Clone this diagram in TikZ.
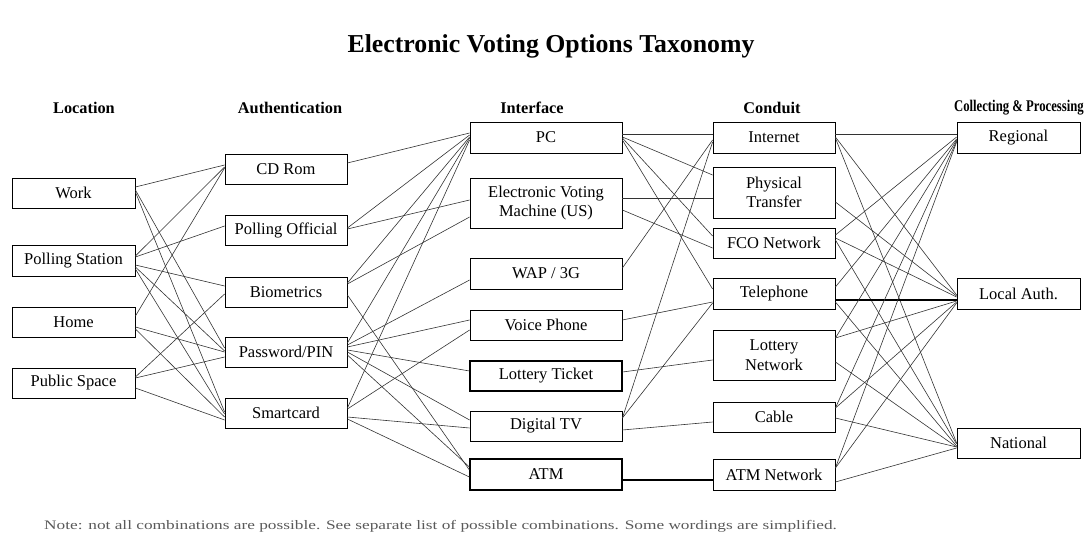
\documentclass[tikz,border=0pt]{standalone}
\usepackage{fontspec}
\setmainfont{Liberation Serif}
\newfontfamily\notefont{Liberation Serif}[FakeStretch=1.33]
\usetikzlibrary{positioning}

\tikzset{
  box/.style={draw, line width=0.8pt, inner sep=0pt, align=center,
              font=\fontsize{16.5}{19.5}\selectfont},
  colA/.style={box, minimum width=123pt},
  colB/.style={box, minimum width=122pt},
  colC/.style={box, minimum width=152pt},
  colD/.style={box, minimum width=122pt},
  colE/.style={box, minimum width=123pt},
  heading/.style={font=\fontsize{16.3}{18}\selectfont\bfseries, inner sep=0pt},
  wire/.style={draw=black!80, line width=0.6pt},
  trunk/.style={draw=black, line width=1.2pt}
}
% \wire{from}{shift at from}{to}{shift at to}: link the east side of one box to the west side of the next
\newcommand\wire[4]{\draw[wire] ([yshift=#2pt]#1.east) -- ([yshift=#4pt]#3.west);}
\newcommand\trunkwire[4]{\draw[trunk] ([yshift=#2pt]#1.east) -- ([yshift=#4pt]#3.west);}

\begin{document}
\begin{tikzpicture}[x=1pt, y=-1pt]
\useasboundingbox (0,0) rectangle (1087,545);

% title and column headings
\node[font=\fontsize{25.8}{30}\selectfont\bfseries, inner sep=0pt] (title) at (551,46) {Electronic Voting Options Taxonomy};
\node[heading] (hLoc)  at (84,108)  {Location};
\node[heading] (hAuth) at (290,108) {Authentication};
\node[heading] (hInt)  at (532,108) {Interface};
\node[heading] (hCon)  at (772,108) {Conduit};
\node[heading, anchor=east] (hCol) at (1084,108) {\scalebox{0.78}[1]{Collecting \& Processing}};

% Location
\node[colA, minimum height=30pt] (work)     at (73.5,193)   {Work};
\node[colA, minimum height=31pt] (pstation) at (73.5,260.5) {Polling Station};
\node[colA, minimum height=30pt] (home)     at (73.5,322)   {Home};
\node[colA, minimum height=30pt] (pspace)   at (73.5,383)   {Public Space};

% Authentication
\node[colB, minimum height=30pt] (cdrom) at (286,169) {CD Rom};
\node[colB, minimum height=30pt] (poff)  at (286,230) {Polling Official};
\node[colB, minimum height=30pt] (bio)   at (286,292) {Biometrics};
\node[colB, minimum height=30pt] (pin)   at (286,352) {Password/PIN};
\node[colB, minimum height=30pt] (smart) at (286,413) {Smartcard};

% Interface
\node[colC, minimum height=31pt] (pc)      at (546,137.5) {PC};
\node[colC, minimum height=50pt] (evm)     at (546,203)   {Electronic Voting\\Machine (US)};
\node[colC, minimum height=31pt] (wap)     at (546,273.5) {WAP / 3G};
\node[colC, minimum height=30pt] (voice)   at (546,325)   {Voice Phone};
\node[colC, minimum height=30pt, line width=1.1pt] (lottery) at (546,376) {Lottery Ticket};
\node[colC, minimum height=30pt] (dtv)     at (546,426)   {Digital TV};
\node[colC, minimum height=31pt, line width=1.2pt] (atm) at (546,474.5) {ATM};

% Conduit
\node[colD, minimum height=31pt] (internet) at (774,137.5) {Internet};
\node[colD, minimum height=51pt] (phys)     at (774,192.5) {Physical\\Transfer};
\node[colD, minimum height=30pt] (fco)      at (774,243)   {FCO Network};
\node[colD, minimum height=31pt] (tel)      at (774,293.5) {Telephone};
\node[colD, minimum height=50pt] (lotnet)   at (774,355)   {Lottery\\Network};
\node[colD, minimum height=30pt] (cable)    at (774,417)   {Cable};
\node[colD, minimum height=31pt] (atmnet)   at (774,474.5) {ATM Network};

% Collecting & Processing
\node[colE, minimum height=31pt] (regional) at (1018.5,137.5) {Regional};
\node[colE, minimum height=31pt] (local)    at (1018.5,293.5) {Local Auth.};
\node[colE, minimum height=30pt] (national) at (1018.5,443)   {National};

% Location -> Authentication
\wire{work}{6}{cdrom}{4}
\wire{work}{3}{pin}{4}
\wire{work}{1}{smart}{1}
\wire{pstation}{4.5}{cdrom}{2}
\wire{pstation}{3.5}{poff}{4}
\wire{pstation}{-4.5}{bio}{6}
\wire{pstation}{-6.5}{pin}{1}
\wire{pstation}{-8.5}{smart}{-1}
\wire{home}{6}{cdrom}{1}
\wire{home}{-5}{pin}{0}
\wire{home}{-7}{smart}{-4}
\wire{pspace}{6}{bio}{-2}
\wire{pspace}{5}{pin}{-5}
\wire{pspace}{-5}{smart}{-7}

% Authentication -> Interface
\wire{cdrom}{6}{pc}{4.5}
\wire{poff}{2}{pc}{2.5}
\wire{poff}{1}{evm}{3}
\wire{bio}{9}{pc}{0.5}
\wire{bio}{8}{evm}{-14}
\wire{bio}{-3}{atm}{4.5}
\wire{pin}{9}{pc}{-0.5}
\wire{pin}{7}{wap}{-6.5}
\wire{pin}{5}{voice}{5}
\wire{pin}{2}{lottery}{5}
\wire{pin}{0}{dtv}{6}
\wire{pin}{-3}{atm}{7.5}
\wire{smart}{5}{pc}{-2.5}
\wire{smart}{4}{voice}{-5}
\wire{smart}{-4}{dtv}{-2}
\wire{smart}{-6}{atm}{-2.5}

% Interface -> Conduit
\wire{pc}{3.5}{internet}{3.5}
\wire{pc}{0.5}{phys}{17.5}
\wire{pc}{-0.5}{fco}{7}
\wire{pc}{-2.5}{tel}{4.5}
\wire{evm}{5}{phys}{-5.5}
\wire{evm}{-7}{fco}{-5}
\wire{wap}{5.5}{internet}{-2.5}
\wire{voice}{5}{tel}{-8.5}
\wire{lottery}{4}{lotnet}{-5}
\wire{dtv}{8}{internet}{-4.5}
\wire{dtv}{8}{tel}{-9.5}
\wire{dtv}{-4}{cable}{-5}
\trunkwire{atm}{-5.5}{atmnet}{-5.5}

% Conduit -> Collecting & Processing
\wire{internet}{3.5}{regional}{3.5}
\wire{internet}{0.5}{local}{-1.5}
\wire{internet}{-0.5}{national}{0}
\wire{phys}{-9.5}{local}{-2.5}
\wire{fco}{8}{regional}{0.5}
\wire{fco}{5}{local}{-3.5}
\wire{fco}{3}{national}{-1}
\wire{tel}{6.5}{regional}{-1.5}
\trunkwire{tel}{-6.5}{local}{-6.5}
\wire{tel}{-8.5}{national}{-3}
\wire{lotnet}{17}{regional}{-2.5}
\wire{lotnet}{17}{local}{-7.5}
\wire{lotnet}{-7}{national}{-4}
\wire{cable}{9}{regional}{-3.5}
\wire{cable}{9}{local}{-8.5}
\wire{cable}{-1}{national}{-4}
\wire{atmnet}{6.5}{regional}{-4.5}
\wire{atmnet}{6.5}{local}{-9.5}
\wire{atmnet}{-7.5}{national}{-5}

% footnote
\node[anchor=west, inner sep=0pt, text=black!65, font=\notefont\fontsize{13}{15}\selectfont] (note) at (44,526)
  {Note: not all combinations are possible. See separate list of possible combinations. Some wordings are simplified.};
\end{tikzpicture}
\end{document}
